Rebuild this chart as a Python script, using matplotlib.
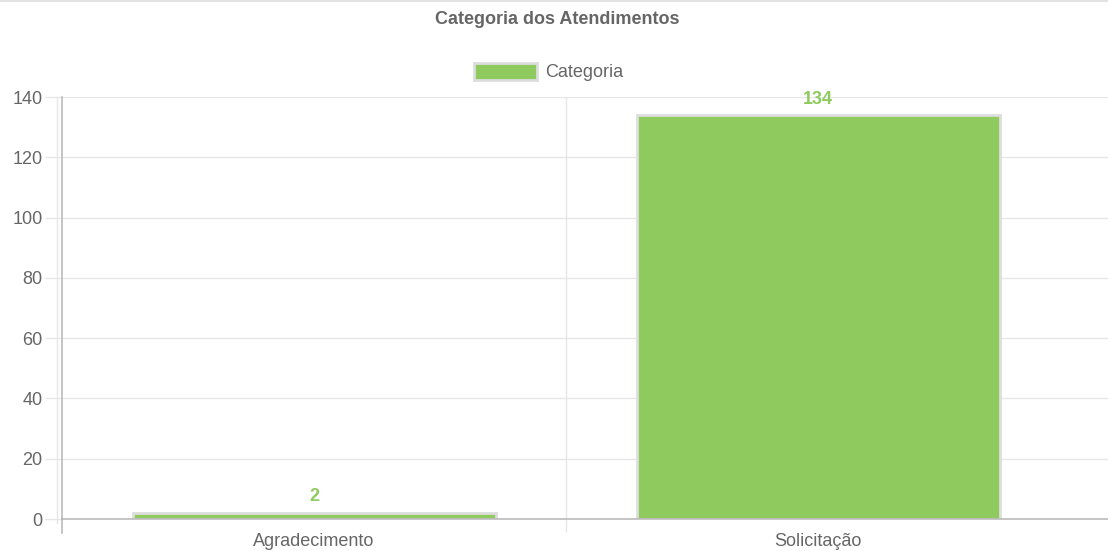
import matplotlib
matplotlib.use("Agg")
import matplotlib.pyplot as plt
from matplotlib.lines import Line2D

plt.rcParams['font.family'] = ['Liberation Sans', 'DejaVu Sans']

categorias = ["Agradecimento", "Solicitação"]
valores = [2, 134]
serie = "Categoria"
titulo = "Categoria dos Atendimentos"
yticks = [0, 20, 40, 60, 80, 100, 120, 140]

verde = "#8fca5f"
borda = "#dddddd"
texto = "#666666"
grade = "#e6e6e6"
eixo = "#b5b5b5"

W, H = 1108, 551
fig = plt.figure(figsize=(W / 100, H / 100), dpi=100)
ax = fig.add_axes([62 / W, (H - 519) / H, (W - 62) / W, (519 - 97) / H])

x = list(range(len(categorias)))
bars = ax.bar(x, valores, width=0.72, color=verde, edgecolor=borda,
              linewidth=2, label=serie, zorder=3)

for xi, v in zip(x, valores):
    ax.annotate(str(v), (xi, v), xytext=(0, 11.5), textcoords="offset points",
                ha="center", va="center", color=verde, fontsize=13,
                fontweight="bold", zorder=4)

ax.set_xlim(-0.5, 1.575)
ax.set_ylim(0, 140)
ax.set_yticks(yticks)
ax.set_xticks(x)
ax.set_xticklabels(categorias)
ax.set_xticks([0.5], minor=True)

ax.tick_params(axis="y", length=12, width=1, color=grade, pad=2,
               labelsize=13, labelcolor=texto)
ax.tick_params(axis="x", which="major", length=0, pad=10,
               labelsize=13, labelcolor=texto)
ax.tick_params(axis="x", which="minor", length=9.5, width=1, color=grade)

ax.grid(axis="y", color=grade, linewidth=1, zorder=0)
ax.grid(axis="x", which="minor", color=grade, linewidth=1, zorder=0)

for s in ["top", "right"]:
    ax.spines[s].set_visible(False)
for s in ["left", "bottom"]:
    ax.spines[s].set_color(eixo)
    ax.spines[s].set_linewidth(1.1)
    ax.spines[s].set_zorder(5)

# extensões das linhas do eixo (estilo do Chart.js)
fig.add_artist(Line2D([62 / W, 62 / W], [(H - 533) / H, (H - 519) / H],
                      color=eixo, linewidth=1.1))
fig.add_artist(Line2D([57 / W, 57 / W], [(H - 523) / H, (H - 97) / H],
                      color=grade, linewidth=1))
fig.add_artist(Line2D([0, 1], [1 - 0.5 / H, 1 - 0.5 / H],
                      color="#dddddd", linewidth=1.2))

fig.text(557 / W, 1 - 20 / H, titulo, ha="center", va="center",
         fontsize=13, fontweight="bold", color=texto)

leg = fig.legend(handles=[bars], loc="center",
                 bbox_to_anchor=(549 / W, 1 - 72 / H), frameon=False,
                 fontsize=13, handlelength=3.5, handleheight=1.1,
                 handletextpad=0.45)
for t in leg.get_texts():
    t.set_color(texto)

fig.savefig("out.png", dpi=100, facecolor="white")
